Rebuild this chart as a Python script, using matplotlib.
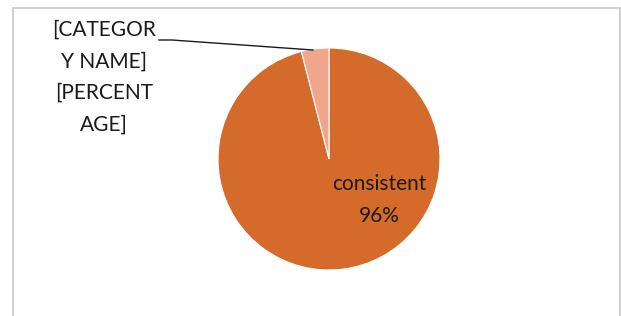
import matplotlib.pyplot as plt
from matplotlib.patches import Rectangle

# data to plot
labels = ['consistent', '[CATEGORY NAME]']
values = [96, 4]
colors = ['#D46B2A', '#F0A68C']

W, H = 621, 316

fig = plt.figure(figsize=(W / 100, H / 100), dpi=100)
ax = fig.add_axes([0, 0, 1, 1])

ax.pie(values, colors=colors, startangle=90, counterclock=False,
       center=(329, 157), radius=111,
       wedgeprops={'edgecolor': 'white', 'linewidth': 0.8})

# pie() resets the limits, so set them afterwards
ax.set_xlim(0, W)
ax.set_ylim(0, H)
ax.set_aspect('equal')
ax.axis('off')

# chart frame (bottom edge falls off the image)
ax.add_patch(Rectangle((13, -10), 607, 318, fill=False,
                       edgecolor='#C8C8C8', lw=1.2))

font = 'Lato'
txt_color = '#1A1A1A'
pct = values[0] / sum(values) * 100
ax.text(379, 116, '%s\n%d%%' % (labels[0], round(pct)), ha='center',
        va='center', fontsize=15, family=font, color=txt_color,
        linespacing=1.72)

ax.text(104, 239, '[CATEGOR\nY NAME]\n[PERCENT\nAGE]', ha='center',
        va='center', fontsize=15, family=font, color=txt_color,
        linespacing=1.72)

# leader line
ax.plot([159, 172, 313], [276, 276, 266], color=txt_color, lw=1)

fig.savefig('out.png', dpi=100)
